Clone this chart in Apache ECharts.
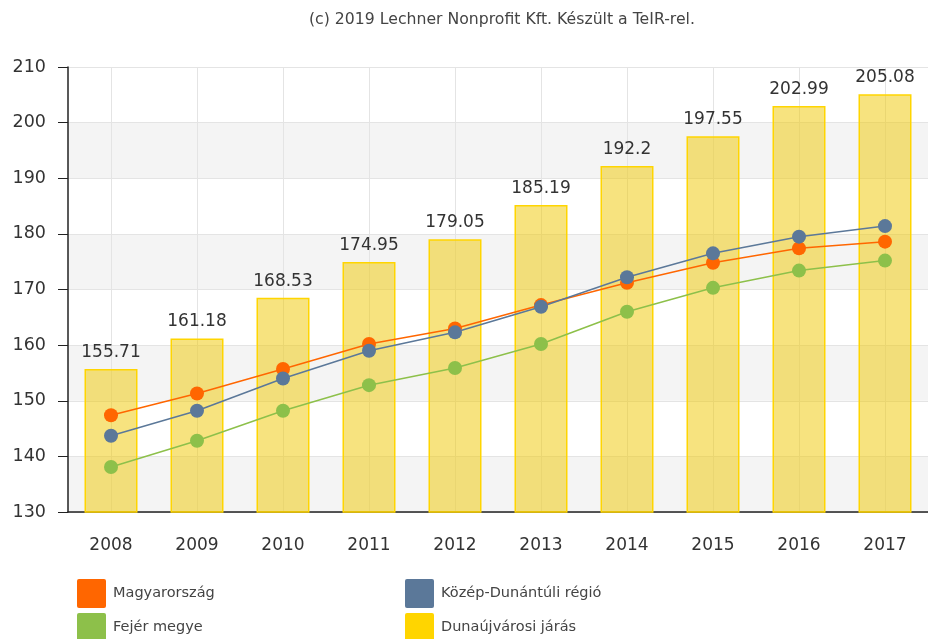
<!DOCTYPE html>
<html>
<head>
<meta charset="utf-8">
<script src="https://cdn.jsdelivr.net/npm/echarts@6/dist/echarts.min.js"></script>
<style>
  html, body { margin: 0; padding: 0; background: #fff; }
  #chart { width: 928px; height: 639px; }
</style>
</head>
<body>
<div id="chart"></div>
<script>
// évek
const years = ['2008', '2009', '2010', '2011', '2012', '2013', '2014', '2015', '2016', '2017']
// oszlopok
const dunaujvarosi = [155.71, 161.18, 168.53, 174.95, 179.05, 185.19, 192.2, 197.55, 202.99, 205.08]
// vonalak
const magyarorszag = [147.4, 151.3, 155.7, 160.2, 163.0, 167.2, 171.2, 174.8, 177.4, 178.6]
const kozepDunantul = [143.7, 148.2, 154.0, 159.0, 162.3, 166.9, 172.2, 176.5, 179.5, 181.4]
const fejer = [138.1, 142.8, 148.2, 152.8, 155.9, 160.2, 166.0, 170.3, 173.4, 175.2]

const chart = echarts.init(document.getElementById('chart'))

const lineSeries = (name, data, color) => ({
  name,
  type: 'line',
  data,
  z: 3,
  symbol: 'circle',
  symbolSize: 14,
  itemStyle: { color },
  lineStyle: { color, width: 1.5 }
})

const legendText = { fontFamily: 'DejaVu Sans', fontSize: 14.5, color: '#444', padding: [0, 0, 0, 2] }
const legendBase = {
  orient: 'vertical',
  top: 579,
  height: 120,
  itemWidth: 29,
  itemHeight: 29,
  itemGap: 5,
  padding: 0,
  icon: 'path://M2,0H27Q29,0,29,2V27Q29,29,27,29H2Q0,29,0,27V2Q0,0,2,0Z',
  textStyle: legendText
}

chart.setOption({
  animation: false,
  title: {
    text: '(c) 2019 Lechner Nonprofit Kft. Készült a TeIR-rel.',
    left: 304,
    top: 7,
    textStyle: { fontFamily: 'DejaVu Sans', fontSize: 15.7, fontWeight: 'normal', color: '#444' }
  },
  legend: [
    Object.assign({}, legendBase, {
      left: 77,
      data: ['Magyarország', 'Fejér megye']
    }),
    Object.assign({}, legendBase, {
      left: 405,
      data: [
        'Közép-Dunántúli régió',
        { name: 'Dunaújvárosi járás', itemStyle: { color: '#FFD500', borderWidth: 0, opacity: 1 } }
      ]
    })
  ],
  grid: { left: 68, top: 67, right: -10, bottom: 127 },
  xAxis: {
    type: 'category',
    data: years,
    axisLine: { lineStyle: { color: '#222', width: 1.5 } },
    axisTick: { alignWithLabel: true, length: 10, lineStyle: { color: '#222' } },
    axisLabel: { fontFamily: 'DejaVu Sans', fontSize: 17, color: '#333', margin: 25 },
    splitLine: { show: true, alignWithLabel: true, lineStyle: { color: '#e4e4e4' } }
  },
  yAxis: {
    type: 'value',
    min: 130,
    max: 210,
    interval: 10,
    axisLine: { show: true, lineStyle: { color: '#222', width: 1.5 } },
    axisTick: { show: true, length: 10, lineStyle: { color: '#222' } },
    axisLabel: { fontFamily: 'DejaVu Sans', fontSize: 17.5, color: '#333', margin: 22 },
    splitLine: { lineStyle: { color: '#e4e4e4' } },
    splitArea: { show: true, areaStyle: { color: ['#f4f4f4', '#ffffff'] } }
  },
  series: [
    lineSeries('Magyarország', magyarorszag, '#FF6600'),
    lineSeries('Közép-Dunántúli régió', kozepDunantul, '#5B7899'),
    lineSeries('Fejér megye', fejer, '#8DC04A'),
    {
      name: 'Dunaújvárosi járás',
      type: 'bar',
      data: dunaujvarosi,
      barWidth: 53,
      z: 1,
      itemStyle: {
        color: 'rgba(240, 200, 0, 0.5)',
        borderColor: '#FFD500',
        borderWidth: 1.5
      },
      label: {
        show: true,
        position: 'top',
        distance: 8,
        fontFamily: 'DejaVu Sans',
        fontSize: 17,
        color: '#333'
      }
    }
  ]
})
</script>
</body>
</html>
